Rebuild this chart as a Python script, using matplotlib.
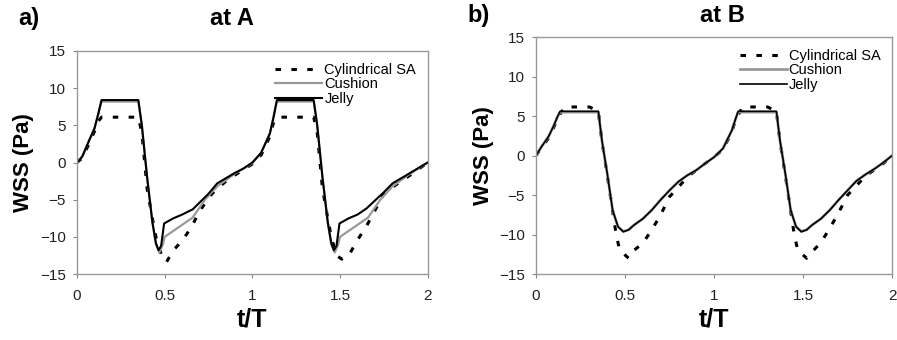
import matplotlib
matplotlib.use("Agg")
import matplotlib.pyplot as plt

plt.rcParams['font.family'] = ['Liberation Sans', 'DejaVu Sans']

# ---- panel a (at A) ----
a_jelly_t = [0, 0.03, 0.07, 0.10, 0.12, 0.14, 0.35, 0.37, 0.40, 0.43, 0.45, 0.465, 0.48, 0.497,
             0.55, 0.60, 0.66, 0.75, 0.80, 0.90, 0.95, 1.00, 1.05, 1.10, 1.12, 1.14, 1.35, 1.37,
             1.40, 1.43, 1.45, 1.465, 1.48, 1.497, 1.55, 1.60, 1.65, 1.75, 1.80, 1.90, 2.00]
a_jelly_v = [0, 0.8, 3.0, 4.6, 6.4, 8.4, 8.4, 5.0, -2.0, -8.0, -10.8, -11.8, -11.2, -8.2,
             -7.5, -7.0, -6.3, -4.2, -2.8, -1.4, -0.8, 0.0, 1.3, 3.9, 6.0, 8.4, 8.4, 5.0,
             -2.0, -8.0, -10.8, -11.8, -11.2, -8.2, -7.5, -7.0, -6.2, -4.0, -2.8, -1.4, 0.0]

a_cush_t = [0, 0.03, 0.07, 0.10, 0.12, 0.14, 0.35, 0.37, 0.40, 0.43, 0.45, 0.47, 0.49, 0.50,
            0.58, 0.66, 0.73, 0.80, 0.90, 1.00, 1.05, 1.10, 1.12, 1.14, 1.35, 1.37, 1.40, 1.43,
            1.45, 1.47, 1.49, 1.50, 1.58, 1.66, 1.73, 1.80, 1.90, 2.00]
a_cush_v = [0, 0.8, 3.0, 4.6, 6.4, 8.2, 8.2, 5.0, -2.0, -8.0, -11.0, -12.1, -11.0, -10.0,
            -8.7, -7.4, -5.0, -3.2, -1.5, -0.1, 1.3, 3.9, 6.0, 8.2, 8.2, 5.0, -2.0, -8.0,
            -11.0, -12.1, -11.0, -10.0, -8.7, -7.4, -5.0, -3.2, -1.5, 0.0]

a_cyl_t = [0, 0.03, 0.07, 0.10, 0.12, 0.14, 0.35, 0.37, 0.40, 0.43, 0.45, 0.48, 0.51, 0.55,
           0.60, 0.65, 0.70, 0.77, 0.85, 0.90, 1.00, 1.05, 1.10, 1.12, 1.14, 1.35, 1.37, 1.40,
           1.43, 1.45, 1.48, 1.51, 1.55, 1.60, 1.65, 1.70, 1.75, 1.80, 1.90, 2.00]
a_cyl_v = [0, 0.6, 2.6, 4.2, 5.5, 6.1, 6.1, 4.0, -3.5, -7.5, -10.0, -12.3, -13.4, -11.8,
           -10.5, -8.8, -6.5, -4.2, -2.5, -1.7, -0.2, 1.0, 3.5, 5.3, 6.1, 6.1, 4.0, -3.5,
           -7.5, -10.0, -12.5, -13.0, -12.5, -10.4, -8.6, -6.4, -4.2, -3.3, -1.7, 0.0]

# ---- panel b (at B) ----
b_jelly_t = [0, 0.03, 0.07, 0.10, 0.12, 0.135, 0.35, 0.37, 0.40, 0.43, 0.46, 0.49, 0.52, 0.55,
             0.60, 0.65, 0.70, 0.75, 0.80, 0.85, 0.90, 0.95, 1.00, 1.05, 1.10, 1.12, 1.135,
             1.35, 1.37, 1.40, 1.43, 1.46, 1.49, 1.52, 1.55, 1.60, 1.65, 1.70, 1.75, 1.80,
             1.85, 1.90, 1.95, 2.00]
b_jelly_v = [0, 1.1, 2.4, 3.8, 4.9, 5.6, 5.6, 1.9, -2.3, -6.9, -9.0, -9.65, -9.4, -8.8,
             -8.0, -6.9, -5.6, -4.4, -3.3, -2.5, -1.85, -1.0, -0.2, 0.9, 3.2, 4.6, 5.6,
             5.6, 1.9, -2.3, -6.9, -9.0, -9.65, -9.4, -8.8, -8.0, -6.9, -5.6, -4.4, -3.2,
             -2.4, -1.7, -0.9, 0.0]
b_cush_v = [0, 1.1, 2.4, 3.8, 4.9, 5.5, 5.5, 1.9, -2.3, -6.9, -9.0, -9.6, -9.4, -8.8,
            -8.0, -6.9, -5.6, -4.4, -3.3, -2.5, -1.85, -1.0, -0.2, 0.9, 3.2, 4.6, 5.5,
            5.5, 1.9, -2.3, -6.9, -9.0, -9.6, -9.4, -8.8, -8.0, -6.9, -5.6, -4.4, -3.2,
            -2.4, -1.7, -0.9, 0.0]

b_cyl_t = [0, 0.03, 0.07, 0.10, 0.12, 0.16, 0.30, 0.35, 0.37, 0.40, 0.43, 0.45, 0.47, 0.52,
           0.55, 0.60, 0.65, 0.70, 0.75, 0.80, 0.85, 0.90, 0.95, 1.00, 1.05, 1.10, 1.12,
           1.16, 1.30, 1.35, 1.37, 1.40, 1.43, 1.45, 1.47, 1.52, 1.55, 1.60, 1.65, 1.70,
           1.75, 1.80, 1.85, 1.90, 1.95, 2.00]
b_cyl_v = [0, 1.0, 2.2, 3.6, 4.7, 6.15, 6.15, 5.6, 1.8, -2.5, -7.0, -10.0, -12.0, -13.0,
           -12.0, -11.1, -9.4, -7.5, -5.2, -4.0, -2.7, -1.85, -1.0, -0.2, 0.8, 3.0, 4.5,
           6.15, 6.15, 5.6, 1.8, -2.5, -7.0, -10.0, -12.0, -13.0, -12.2, -11.0, -9.2,
           -7.2, -5.0, -3.8, -2.6, -1.8, -1.0, 0.0]

xticks = [0, 0.5, 1, 1.5, 2]
xticklabels = ["0", "0.5", "1", "1.5", "2"]
yticks = [-15, -10, -5, 0, 5, 10, 15]

fig = plt.figure(figsize=(8.97, 3.4), dpi=100)
ax_a = fig.add_axes([0.0858, 0.194, 0.391, 0.656])
ax_b = fig.add_axes([0.5976, 0.194, 0.397, 0.697])

dash = (0, (1.8, 3.4))


def style(ax):
    ax.set_xlim(0, 2)
    ax.set_ylim(-15, 15)
    ax.set_xticks(xticks)
    ax.set_xticklabels(xticklabels)
    ax.set_yticks(yticks)
    ax.tick_params(labelsize=11, length=3, color="#888888", labelcolor="#222222")
    ax.tick_params(axis="x", pad=8)
    ax.tick_params(axis="y", pad=5)
    for s in ax.spines.values():
        s.set_color("#999999")
        s.set_linewidth(1.0)
    ax.set_xlabel("t/T", fontsize=18, fontweight="bold", labelpad=3)
    ax.set_ylabel("WSS (Pa)", fontsize=16, fontweight="bold", labelpad=4)
    ax.legend(loc="upper right", frameon=False, fontsize=10.5, handlelength=3.2,
              handletextpad=0.15, labelspacing=0.05, borderaxespad=0.4)


ax_a.plot(a_cyl_t, a_cyl_v, color="black", lw=2.2, linestyle=dash, label="Cylindrical SA")
ax_a.plot(a_cush_t, a_cush_v, color="#999999", lw=1.6, label="Cushion")
ax_a.plot(a_jelly_t, a_jelly_v, color="black", lw=1.5, label="Jelly")
style(ax_a)

ax_b.plot(b_cyl_t, b_cyl_v, color="black", lw=2.2, linestyle=dash, label="Cylindrical SA")
ax_b.plot(b_jelly_t, b_cush_v, color="#999999", lw=2.0, label="Cushion")
ax_b.plot(b_jelly_t, b_jelly_v, color="black", lw=1.2, label="Jelly")
style(ax_b)

fig.text(0.020, 0.945, "a)", fontsize=17, fontweight="bold", va="center")
fig.text(0.259, 0.945, "at A", fontsize=17, fontweight="bold", va="center", ha="center")
fig.text(0.521, 0.955, "b)", fontsize=17, fontweight="bold", va="center")
fig.text(0.805, 0.955, "at B", fontsize=17, fontweight="bold", va="center", ha="center")

fig.savefig("out.png", dpi=100)
